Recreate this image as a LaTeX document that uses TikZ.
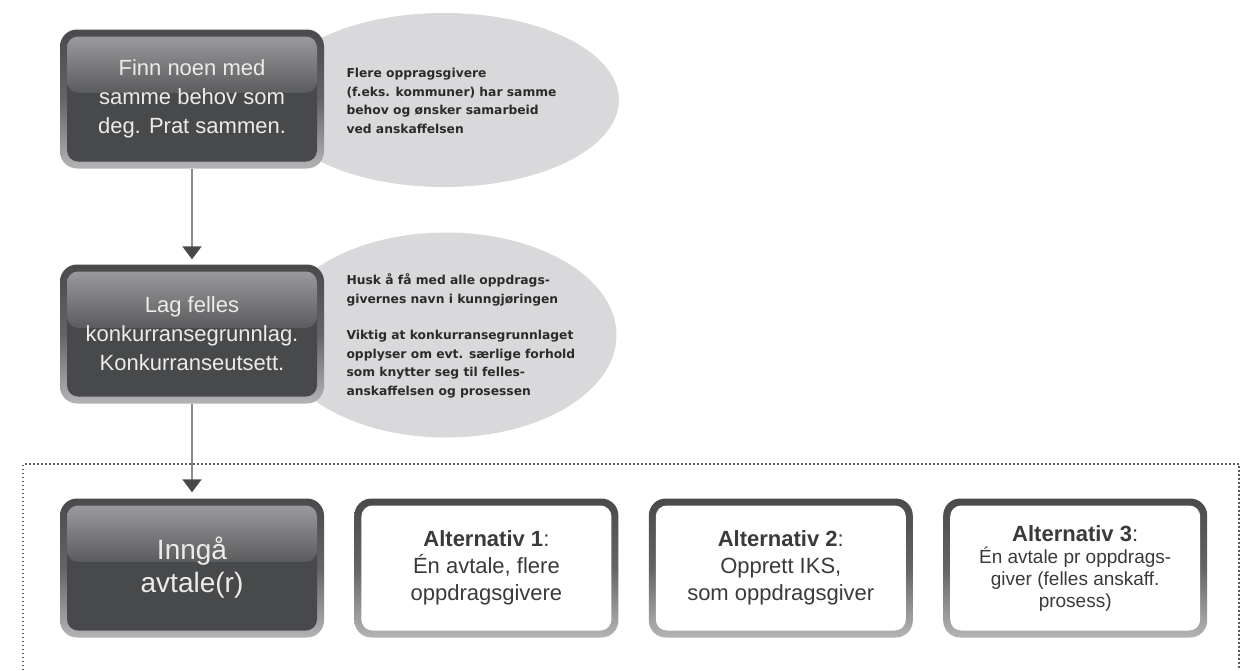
\documentclass[tikz,border=0pt]{standalone}
\usepackage{fontspec}
\setmainfont{Liberation Sans}
\newfontfamily\notefont{DejaVu Sans}
\usetikzlibrary{shapes.geometric,arrows.meta,calc,positioning}

\definecolor{boxdark}{HTML}{48494B}
\definecolor{glosstop}{HTML}{9A9A9C}
\definecolor{glossbot}{HTML}{5B5C5E}
\definecolor{ringtop}{HTML}{4A4A4C}
\definecolor{ringbot}{HTML}{B4B4B6}
\definecolor{notefill}{HTML}{D9D9DB}
\definecolor{notetext}{HTML}{2B2B2B}
\definecolor{alttext}{HTML}{3A3A3A}
\definecolor{arrowline}{HTML}{8C8C8E}
\definecolor{framegray}{HTML}{5A5A5A}

\begin{document}
\begin{tikzpicture}[x=1pt, y=-1pt, node distance=30pt,
    boxring/.style={rounded corners=17pt, minimum width=264pt, minimum height=139pt,
        inner sep=0pt, align=center,
        top color=ringtop, bottom color=ringbot, middle color=ringtop!75!ringbot},
    darkbox/.style={boxring, text=white!92!black, font=\fontsize{22}{29}\selectfont,
        path picture={
            \coordinate (nw) at ([shift={(7pt,-7pt)}]path picture bounding box.north west);
            \coordinate (se) at ([shift={(-7pt,7pt)}]path picture bounding box.south east);
            \fill[boxdark, rounded corners=11pt] (nw) rectangle (se);
            \shade[top color=glosstop, bottom color=glossbot, rounded corners=11pt]
                (nw) rectangle ($(nw -| se)!0.45!(se)$);
        }},
    altbox/.style={boxring, text=alttext, font=\fontsize{22}{27}\selectfont,
        path picture={
            \fill[white, rounded corners=11pt]
                ([shift={(7pt,-7pt)}]path picture bounding box.north west) rectangle
                ([shift={(-7pt,7pt)}]path picture bounding box.south east);
        }},
    notebubble/.style={ellipse, fill=notefill, inner sep=0pt},
    notetxt/.style={anchor=west, align=left, text=notetext,
        font=\notefont\bfseries\fontsize{12.3}{18.5}\selectfont},
    flowarrow/.style={draw=arrowline, line width=2pt,
        -{Triangle[width=19pt, length=13pt, color=boxdark]}}
]
    \useasboundingbox (0,0) rectangle (1243,670);

    % kommentarbobler
    \node[notebubble, minimum width=350pt, minimum height=174pt] (note1) at (444,100) {};
    \node[notetxt] (note1txt) at (343,101) {Flere oppragsgivere\\(f.eks. kommuner) har samme\\behov og ønsker samarbeid\\ved anskaffelsen};

    \node[notebubble, minimum width=341pt, minimum height=205pt] (note2) at (446,335) {};
    \node[notetxt] (note2txt) at (343,336) {Husk å få med alle oppdrags-\\givernes navn i kunngjøringen\\[18pt]Viktig at konkurransegrunnlaget\\opplyser om evt. særlige forhold\\som knytter seg til felles-\\anskaffelsen og prosessen};

    % stegene
    \node[darkbox] (finn) at (192,99) {Finn noen med\\samme behov som\\deg. Prat sammen.};
    \node[darkbox] (lag) at (192,334) {Lag felles\\konkurransegrunnlag.\\Konkurranseutsett.};
    \node[darkbox, font=\fontsize{28}{33}\selectfont] (inngaa) at (192,568) {Inngå\\avtale(r)};

    % alternativene
    \node[altbox, right=of inngaa] (alt1) {\textbf{Alternativ 1}:\\Én avtale, flere\\oppdragsgivere};
    \node[altbox, right=of alt1] (alt2) {\textbf{Alternativ 2}:\\Opprett IKS,\\som oppdragsgiver};
    \node[altbox, right=of alt2, font=\fontsize{19}{22}\selectfont] (alt3) {{\fontsize{22}{27}\selectfont\textbf{Alternativ 3}:}\\Én avtale pr oppdrags-\\giver (felles anskaff.\\prosess)};

    % piler
    \draw[flowarrow, shorten >=5pt] (finn) -- (lag);
    \draw[flowarrow, shorten >=6pt] (lag) -- (inngaa);

    % stiplet ramme
    \draw[framegray, line width=1.2pt, dash pattern=on 1.5pt off 2.5pt] (23,670) |- (1239,464) -- (1239,670);
\end{tikzpicture}
\end{document}
